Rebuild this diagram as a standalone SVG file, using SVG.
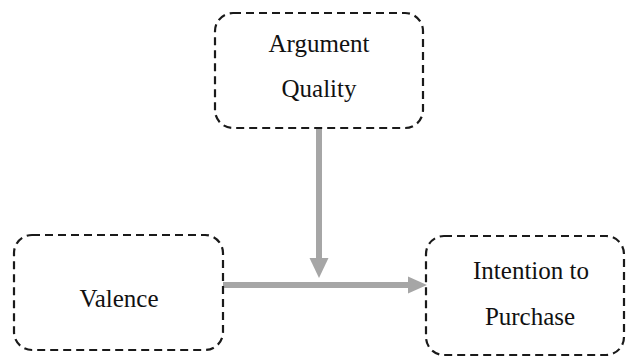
<svg xmlns="http://www.w3.org/2000/svg" width="627" height="358" viewBox="0 0 627 358">
<style>
.box{fill:none;stroke:#1a1a1a;stroke-width:2.2;stroke-dasharray:8 5}
.lbl{font-family:"Liberation Serif","Times New Roman",serif;font-size:25px;fill:#111;text-anchor:middle}
.conn{stroke:#a6a6a6;stroke-width:6;fill:none}
.head{fill:#a6a6a6}
</style>
<rect width="627" height="358" fill="#fff"/>
<g id="connectors">
<line class="conn" x1="319" y1="128" x2="319" y2="260"/>
<polygon class="head" points="309.5,258 328.5,258 319,278"/>
<line class="conn" x1="223" y1="285" x2="410" y2="285"/>
<polygon class="head" points="408,276.5 408,293.5 427,285"/>
</g>
<g id="argument-quality">
<rect class="box" x="215" y="13" width="208" height="115" rx="18"/>
<text class="lbl" x="319" y="52">Argument</text>
<text class="lbl" x="319" y="97">Quality</text>
</g>
<g id="valence">
<rect class="box" x="14" y="235" width="209" height="115" rx="18"/>
<text class="lbl" x="119" y="307">Valence</text>
</g>
<g id="intention">
<rect class="box" x="426" y="236" width="198" height="119" rx="18"/>
<text class="lbl" x="531" y="279">Intention to</text>
<text class="lbl" x="530" y="325">Purchase</text>
</g>
</svg>
